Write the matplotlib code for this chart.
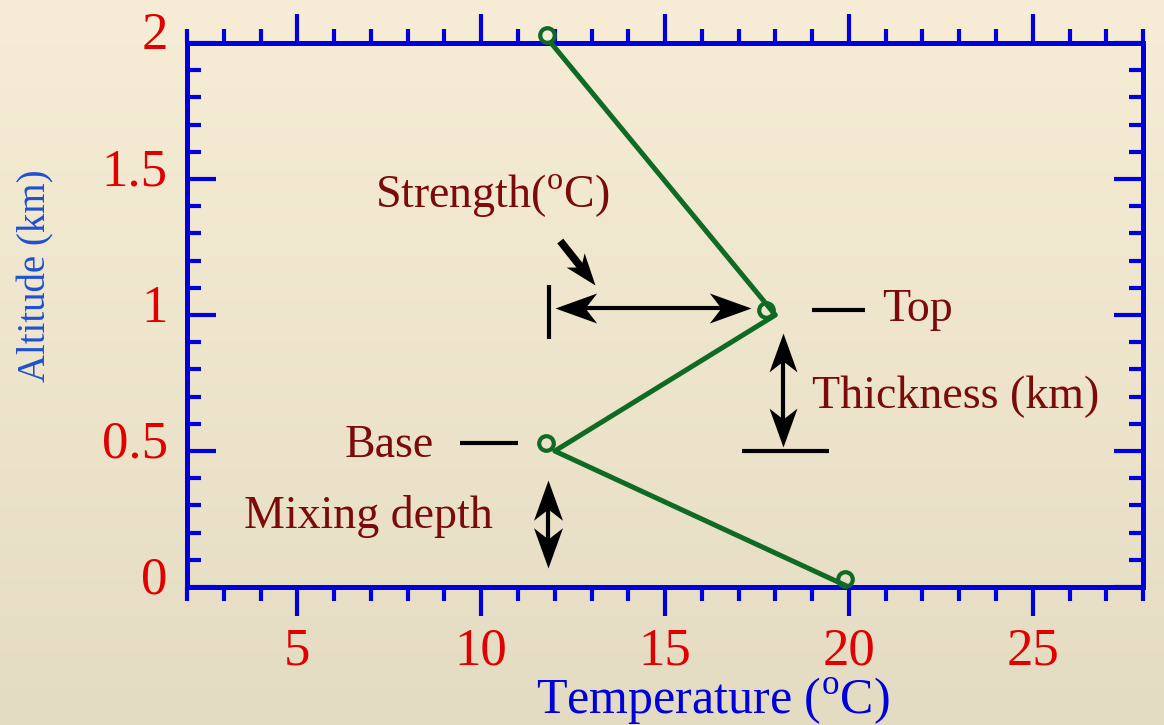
"""Inversion layer sketch: temperature vs altitude with annotated strength/thickness."""

import matplotlib.pyplot as plt
import numpy as np
from matplotlib.markers import MarkerStyle
from matplotlib.path import Path
from matplotlib.ticker import MultipleLocator
from matplotlib.transforms import Affine2D, ScaledTranslation

# temperature profile (line vertices) and the plotted circles
profile_temp = [11.9, 18.0, 12.0, 20.0]
profile_alt = [2.0, 1.0, 0.5, 0.0]
marker_temp = [11.8, 17.75, 11.75, 19.9]
marker_alt = [2.03, 1.02, 0.53, 0.03]

x_ticks = [5, 10, 15, 20, 25]
x_ticklabels = ["5", "10", "15", "20", "25"]
y_ticks = [0, 0.5, 1, 1.5, 2]
y_ticklabels = ["0", "0.5", "1", "1.5", "2"]

BLUE = "#0000DD"
RED = "#E00000"
DARKRED = "#7B0A0A"
GREEN = "#0E6A24"


def stealth(angle, notch=0.72):
    verts = [(0, 0), (-1, 0.36), (-notch, 0), (-1, -0.36), (0, 0)]
    codes = [Path.MOVETO, Path.LINETO, Path.LINETO, Path.LINETO, Path.CLOSEPOLY]
    return MarkerStyle(Path(verts, codes), transform=Affine2D().rotate_deg(angle))


def arrow(ax, start, end, both=True, size=58, lw=3.0):
    """Shaft from start to end with stealth heads drawn as rotated markers."""
    p0 = ax.transData.transform(start)
    p1 = ax.transData.transform(end)
    d = p1 - p0
    ang = np.degrees(np.arctan2(d[1], d[0]))
    unit = d / np.hypot(*d)
    cut = size * 0.5 * 0.7 * 100 / 72  # head length in pixels, part covered
    inv = ax.transData.inverted()
    s0 = inv.transform(p0 + unit * cut) if both else np.asarray(start)
    s1 = inv.transform(p1 - unit * cut)
    ax.plot([s0[0], s1[0]], [s0[1], s1[1]], color="black", lw=lw,
            solid_capstyle="butt")
    ax.plot([end[0]], [end[1]], ls="none", marker=stealth(ang), ms=size,
            color="black", mew=0)
    if both:
        ax.plot([start[0]], [start[1]], ls="none", marker=stealth(ang + 180),
                ms=size, color="black", mew=0)


def main() -> None:
    plt.rcParams["font.family"] = ["Liberation Serif", "DejaVu Serif"]
    plt.rcParams["mathtext.fontset"] = "custom"
    plt.rcParams["mathtext.rm"] = "Liberation Serif"

    fig = plt.figure(figsize=(11.64, 7.25), dpi=100)

    # background gradient
    bg = fig.add_axes([0, 0, 1, 1], zorder=-1)
    top = np.array([247, 237, 214]) / 255
    bot = np.array([228, 220, 194]) / 255
    t = np.linspace(0, 1, 256)[:, None]
    grad = top * (1 - t) + bot * t
    bg.imshow(grad[:, None, :], aspect="auto", extent=[0, 1, 0, 1])
    bg.axis("off")

    ax = fig.add_axes([0.1607, 0.1903, 0.8213, 0.7504])
    ax.patch.set_alpha(0)
    ax.set_xlim(2, 28)
    ax.set_ylim(0, 2)

    ax.plot(profile_temp, profile_alt, color=GREEN, lw=3.6, zorder=3)
    ax.plot(marker_temp, marker_alt, ls="none", marker="o", ms=10.5,
            mfc="none", mec=GREEN, mew=3, clip_on=False, zorder=4)

    for sp in ax.spines.values():
        sp.set_color(BLUE)
        sp.set_linewidth(3.6)

    ax.xaxis.set_major_locator(MultipleLocator(5))
    ax.xaxis.set_minor_locator(MultipleLocator(1))
    ax.yaxis.set_major_locator(MultipleLocator(0.5))
    ax.yaxis.set_minor_locator(MultipleLocator(0.1))
    ax.set_xticks(x_ticks, x_ticklabels)
    ax.set_yticks(y_ticks, y_ticklabels)
    ax.tick_params(axis="x", which="both", direction="out", top=True,
                   bottom=True, color=BLUE, width=3, labelcolor=RED,
                   labelsize=38)
    ax.tick_params(axis="x", which="major", length=21, pad=8)
    ax.tick_params(axis="x", which="minor", length=10)
    ax.tick_params(axis="y", which="both", direction="in", left=True,
                   right=True, color=BLUE, width=3, labelcolor=RED,
                   labelsize=38, pad=14)
    ax.tick_params(axis="y", which="major", length=21)
    ax.tick_params(axis="y", which="minor", length=10)
    off = ScaledTranslation(0, 0.12, fig.dpi_scale_trans)
    for lab in ax.get_yticklabels():
        lab.set_transform(lab.get_transform() + off)

    ax.set_xlabel("Temperature ($^{\\mathrm{o}}$C)", color=BLUE,
                  fontsize=36, va="center")
    ax.xaxis.set_label_coords(0.55, -0.208)
    ax.set_ylabel("Altitude (km)", color="#1E50D2", fontsize=28,
                  va="center")
    ax.yaxis.set_label_coords(-0.158, 0.572)

    # annotations
    txt = dict(color=DARKRED, fontsize=33, va="center")
    ax.text(7.1, 1.44, "Strength($^{\\mathrm{o}}$C)", ha="left", **txt)
    ax.text(20.9, 1.02, "Top", ha="left", **txt)
    ax.text(19.0, 0.70, "Thickness (km)", ha="left", **txt, clip_on=False)
    ax.text(8.7, 0.52, "Base", ha="right", **txt)
    ax.text(3.55, 0.26, "Mixing depth", ha="left", **txt)

    bar = dict(color="black", lw=3, solid_capstyle="butt")
    ax.plot([11.84, 11.84], [0.91, 1.11], **bar)
    ax.plot([19.0, 20.45], [1.02, 1.02], **bar)
    ax.plot([17.1, 19.45], [0.50, 0.50], **bar)
    ax.plot([9.43, 11.0], [0.53, 0.53], **bar)

    arrow(ax, (12.0, 1.026), (17.33, 1.026), size=60)
    arrow(ax, (18.2, 0.934), (18.2, 0.515), size=56)
    arrow(ax, (11.81, 0.393), (11.81, 0.07), size=58)
    arrow(ax, (12.15, 1.272), (13.1, 1.11), both=False, size=46, lw=5.5)

    plt.savefig("out.png", dpi=100)


if __name__ == "__main__":
    main()
